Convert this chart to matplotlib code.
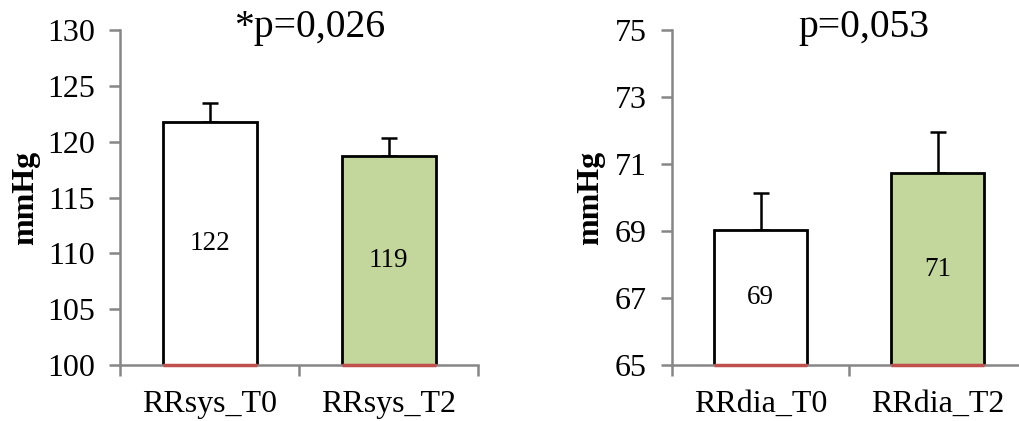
import matplotlib.pyplot as plt
import numpy as np

plt.rcParams['font.family'] = ['Liberation Serif', 'DejaVu Serif']

# Blood pressure means and upper error (mmHg)
sys_labels = ['RRsys_T0', 'RRsys_T2']
sys_means = [121.76, 118.7]
sys_err = [1.7, 1.6]
sys_text = ['122', '119']

dia_labels = ['RRdia_T0', 'RRdia_T2']
dia_means = [69.03, 70.73]
dia_err = [1.11, 1.23]
dia_text = ['69', '71']

bar_colors = ['white', '#c3d69b']
axis_gray = '#868686'
base_red = '#c0504d'

fig = plt.figure(figsize=(10.19, 4.21), dpi=100)
ax1 = fig.add_axes([0.1178, 0.133, 0.3513, 0.7957])
ax2 = fig.add_axes([0.6595, 0.133, 0.3474, 0.7957])


def draw_panel(ax, labels, means, errs, texts, ylim, yticks, title, title_x, ylabel_x):
    x = np.arange(1, len(labels) + 1)
    width = 0.525
    ax.bar(x, means, width=width, bottom=0, color=bar_colors, edgecolor='black',
           linewidth=2, zorder=2)
    ax.errorbar(x, means, yerr=[np.zeros(len(errs)), errs], fmt='none',
                ecolor='black', elinewidth=1.8, capsize=6, capthick=1.8, zorder=1)
    # red baseline under each bar
    ax.hlines([ylim[0]] * len(x), x - width / 2, x + width / 2, colors=base_red,
              linewidth=2.5, zorder=4, clip_on=False)
    for xi, m, t in zip(x, means, texts):
        ax.text(xi, (ylim[0] + m) / 2, t, ha='center', va='center', fontsize=19.5, zorder=5)

    ax.set_ylim(*ylim)
    ax.set_xlim(0.5, len(labels) + 0.5)
    ax.set_yticks(yticks)
    ax.set_yticklabels([str(v) for v in yticks], fontsize=23)
    ax.set_xticks(np.arange(0.5, len(labels) + 1, 1.0))
    ax.set_xticklabels([])
    ax.set_xticks(x, minor=True)
    ax.set_xticklabels(labels, minor=True, fontsize=23)
    ax.tick_params(axis='x', which='minor', length=0, pad=18)
    ax.tick_params(axis='x', which='major', length=8, width=1.8, color=axis_gray)
    ax.tick_params(axis='y', length=8, width=1.8, color=axis_gray, pad=10)

    for side in ['top', 'right']:
        ax.spines[side].set_visible(False)
    for side in ['left', 'bottom']:
        ax.spines[side].set_color(axis_gray)
        ax.spines[side].set_linewidth(1.8)
        ax.spines[side].set_zorder(3)

    ax.set_ylabel('mmHg', fontsize=23, fontweight='bold', va='center')
    ax.yaxis.set_label_coords(ylabel_x, 0.5)
    ax.text(title_x, 0.978, title, transform=ax.transAxes, ha='center',
            va='baseline', fontsize=28.5)


draw_panel(ax1, sys_labels, sys_means, sys_err, sys_text, (100, 130),
           [100, 105, 110, 115, 120, 125, 130], '*p=0,026', 0.53, -0.263)
draw_panel(ax2, dia_labels, dia_means, dia_err, dia_text, (65, 75),
           [65, 67, 69, 71, 73, 75], 'p=0,053', 0.542, -0.229)

plt.savefig('out.png', dpi=100)
